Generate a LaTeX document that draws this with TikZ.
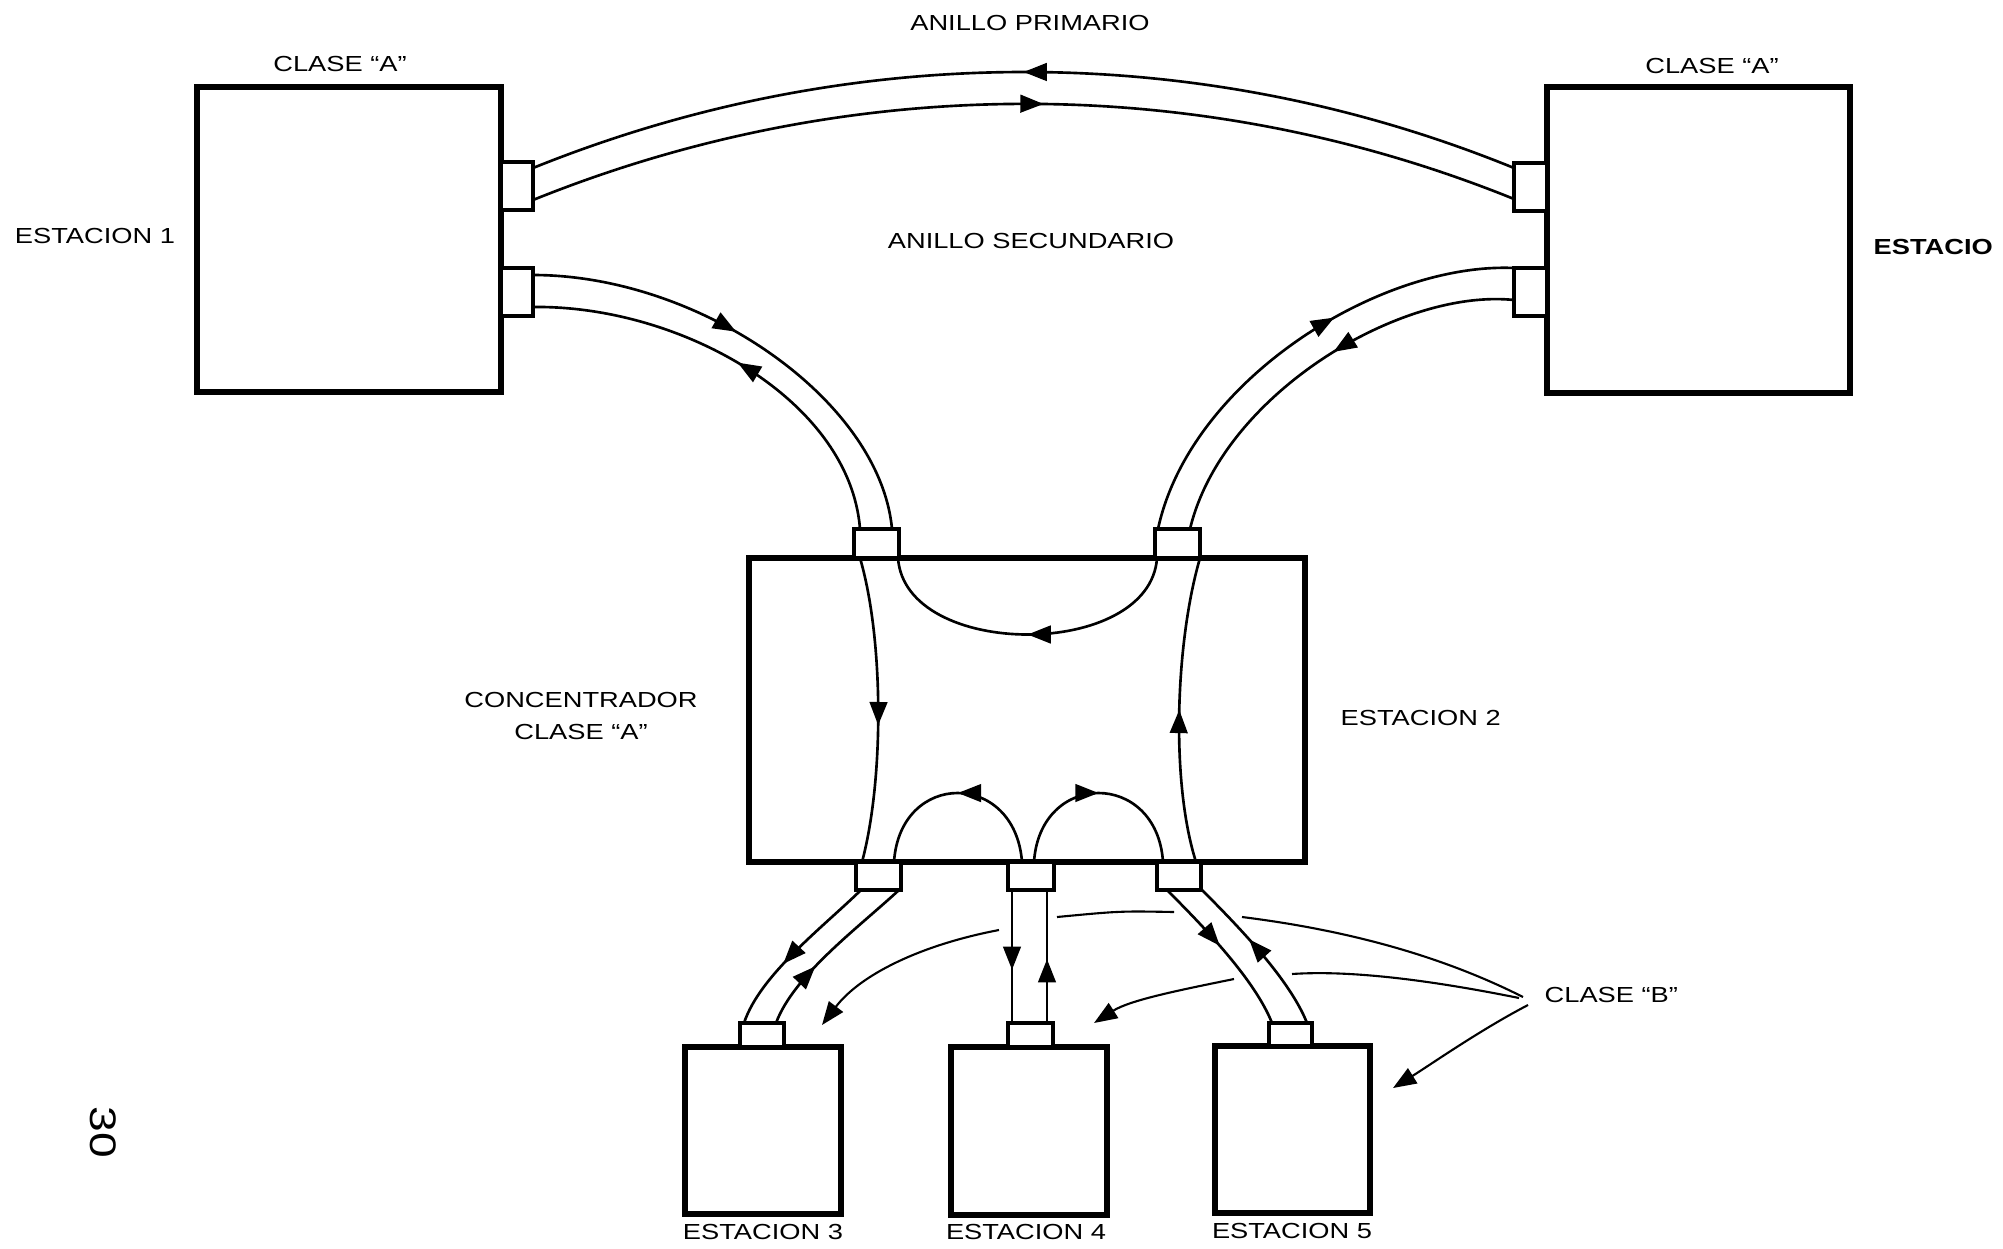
\documentclass[tikz,border=0pt]{standalone}
\usepackage{fontspec}
\setmainfont{Liberation Sans}[FakeStretch=1.25]
\usetikzlibrary{arrows.meta,decorations.markings}
\tikzset{
  box/.style={draw,line width=1.6pt,inner sep=0pt,outer sep=0pt},
  port/.style={draw,line width=1pt,inner sep=0pt,outer sep=0pt,fill=white},
  cable/.style={line width=0.75pt},
  lead/.style={line width=0.6pt},
  tipA/.tip={Triangle[length=6.6pt,width=5pt]},
  af/.style={postaction={decorate,decoration={markings,mark=at position #1 with {\arrow{tipA}}}}},
  ab/.style={postaction={decorate,decoration={markings,mark=at position #1 with {\arrowreversed{tipA}}}}},
  lbl/.style={inner sep=0pt,font=\fontsize{6.2}{7.6}\selectfont},
}
\begin{document}
\begin{tikzpicture}[x=0.01cm,y=-0.01cm]
\fill[white] (0,0) rectangle (2003,1248);
\useasboundingbox (0,0) rectangle (2003,1248);

% ---- boxes
\node[box,minimum width=3.04cm,minimum height=3.05cm] (s1) at (349,239.5) {};
\node[box,minimum width=3.03cm,minimum height=3.06cm] (sr) at (1698.5,240) {};
\node[box,minimum width=5.56cm,minimum height=3.04cm] (conc) at (1027,710) {};
\node[box,minimum width=1.56cm,minimum height=1.67cm] (s3) at (763,1130.5) {};
\node[box,minimum width=1.56cm,minimum height=1.68cm] (s4) at (1029,1131) {};
\node[box,minimum width=1.55cm,minimum height=1.67cm] (s5) at (1292.5,1129.5) {};

% ---- ports
\node[port,minimum width=0.32cm,minimum height=0.48cm] (p1a) at (517,186) {};
\node[port,minimum width=0.32cm,minimum height=0.48cm] (p1b) at (517,292) {};
\node[port,minimum width=0.33cm,minimum height=0.48cm] (pra) at (1530.5,187) {};
\node[port,minimum width=0.33cm,minimum height=0.48cm] (prb) at (1530.5,292) {};
\node[port,minimum width=0.45cm,minimum height=0.29cm] (pca) at (876.5,543.5) {};
\node[port,minimum width=0.45cm,minimum height=0.29cm] (pcb) at (1177.5,543.5) {};
\node[port,minimum width=0.45cm,minimum height=0.28cm] (pcc) at (878.5,876) {};
\node[port,minimum width=0.46cm,minimum height=0.28cm] (pcd) at (1031,876) {};
\node[port,minimum width=0.44cm,minimum height=0.28cm] (pce) at (1179,876) {};
\node[port,minimum width=0.44cm,minimum height=0.24cm] (p3) at (762,1035) {};
\node[port,minimum width=0.45cm,minimum height=0.24cm] (p4) at (1030.5,1035) {};
\node[port,minimum width=0.43cm,minimum height=0.23cm] (p5) at (1290.5,1034.5) {};

% ---- cable end points
\coordinate (pa1) at (533,168);  \coordinate (pb1) at (1514,168);
\coordinate (pa2) at (533,200);  \coordinate (pb2) at (1514,199);
\coordinate (s1o) at (533,275);  \coordinate (cao) at (892,529);
\coordinate (s1i) at (533,307);  \coordinate (cai) at (860,529);
\coordinate (sro) at (1514,268); \coordinate (cbo) at (1158,529);
\coordinate (sri) at (1514,300); \coordinate (cbi) at (1190,529);
\coordinate (ka1) at (860,558);  \coordinate (kc1) at (862,862);
\coordinate (ka2) at (898,558);  \coordinate (kb1) at (1157,558);
\coordinate (kb2) at (1200,558); \coordinate (ke2) at (1196,862);
\coordinate (kc2) at (894,862);  \coordinate (kd1) at (1022,862);
\coordinate (kd2) at (1034,862); \coordinate (ke1) at (1163,862);
\coordinate (bc1) at (861,890);  \coordinate (t3a) at (744,1023);
\coordinate (bc2) at (899,890);  \coordinate (t3b) at (776,1023);
\coordinate (bd1) at (1012,890); \coordinate (t4a) at (1012,1023);
\coordinate (bd2) at (1047,890); \coordinate (t4b) at (1047,1023);
\coordinate (be1) at (1167,890); \coordinate (t5a) at (1272,1023);
\coordinate (be2) at (1202,890); \coordinate (t5b) at (1307,1023);

% ---- primary ring
\draw[cable,ab=0.5] (pa1) .. controls (850,40) and (1200,40) .. (pb1);
\draw[cable,af=0.52] (pa2) .. controls (850,72) and (1200,72) .. (pb2);

% ---- secondary ring
\draw[cable,af=0.45] (s1o) .. controls (700,275) and (880,400) .. (cao);
\draw[cable,ab=0.5] (s1i) .. controls (680,305) and (850,400) .. (cai);
\draw[cable,ab=0.4] (sro) .. controls (1380,262) and (1190,380) .. (cbo);
\draw[cable,af=0.45] (sri) .. controls (1400,288) and (1222,395) .. (cbi);

% ---- inside concentrator
\draw[cable,af=0.55] (ka1) .. controls (884,640) and (884,780) .. (kc1);
\draw[cable,ab=0.5] (kb2) .. controls (1176,640) and (1170,780) .. (ke2);
\draw[cable,ab=0.5] (ka2) .. controls (905,660) and (1150,660) .. (kb1);
\draw[cable,ab=0.5] (kc2) .. controls (900,770) and (1015,770) .. (kd1);
\draw[cable,af=0.5] (kd2) .. controls (1040,770) and (1157,770) .. (ke1);

% ---- class B stations
\draw[cable,af=0.6] (bc1) .. controls (822,928) and (760,975) .. (t3a);
\draw[cable,ab=0.62] (bc2) .. controls (858,928) and (794,975) .. (t3b);
\draw[cable,af=0.6] (bd1) -- (t4a);
\draw[cable,ab=0.52] (bd2) -- (t4b);
\draw[cable,af=0.45] (be1) .. controls (1205,928) and (1255,980) .. (t5a);
\draw[cable,ab=0.4] (be2) .. controls (1240,928) and (1290,980) .. (t5b);

% ---- labels
\node[lbl] (anp) at (1030,23) {ANILLO PRIMARIO};
\node[lbl] (cla1) at (340,64) {CLASE “A”};
\node[lbl] (cla2) at (1712,66) {CLASE “A”};
\node[lbl] (e1) at (95,236) {ESTACION 1};
\node[lbl] (ans) at (1031,241) {ANILLO SECUNDARIO};
\node[lbl,anchor=west,font=\fontsize{6.2}{7.6}\selectfont\bfseries] (er) at (1873,247) {ESTACIO};
\node[lbl,align=center] (clc) at (581,716) {CONCENTRADOR\\[1.3pt]CLASE “A”};
\node[lbl,anchor=west] (e2) at (1340,718) {ESTACION 2};
\node[lbl,anchor=west] (clb) at (1544,995) {CLASE “B”};
\node[lbl] (e3) at (763,1232) {ESTACION 3};
\node[lbl] (e4) at (1026,1232) {ESTACION 4};
\node[lbl] (e5) at (1292,1231) {ESTACION 5};
\node[inner sep=0pt,rotate=-90,font=\fontsize{10.5}{12}\selectfont] (pg) at (103,1132) {30};

% ---- class B leaders
\coordinate (lb1) at (1523,997);
\coordinate (lb2) at (1519,998);
\coordinate (lb3) at (1528,1005);
\coordinate (g1a) at (1242,917); \coordinate (g1b) at (1174,912);
\coordinate (g1c) at (1057,917); \coordinate (g1d) at (999,930);
\coordinate (a3) at (822,1025);
\coordinate (g2a) at (1292,974); \coordinate (g2b) at (1234,979);
\coordinate (a4) at (1094,1023);
\coordinate (a5) at (1393,1088);
\draw[lead] (lb1) .. controls (1430,950) and (1330,928) .. (g1a);
\draw[lead] (g1b) .. controls (1120,911) .. (g1c);
\draw[lead,-tipA] (g1d) .. controls (920,945) and (860,975) .. (a3);
\draw[lead] (lb2) .. controls (1430,980) and (1350,970) .. (g2a);
\draw[lead,-tipA] (g2b) .. controls (1180,990) and (1130,1000) .. (a4);
\draw[lead,-tipA] (lb3) .. controls (1480,1030) and (1430,1065) .. (a5);
\end{tikzpicture}
\end{document}
